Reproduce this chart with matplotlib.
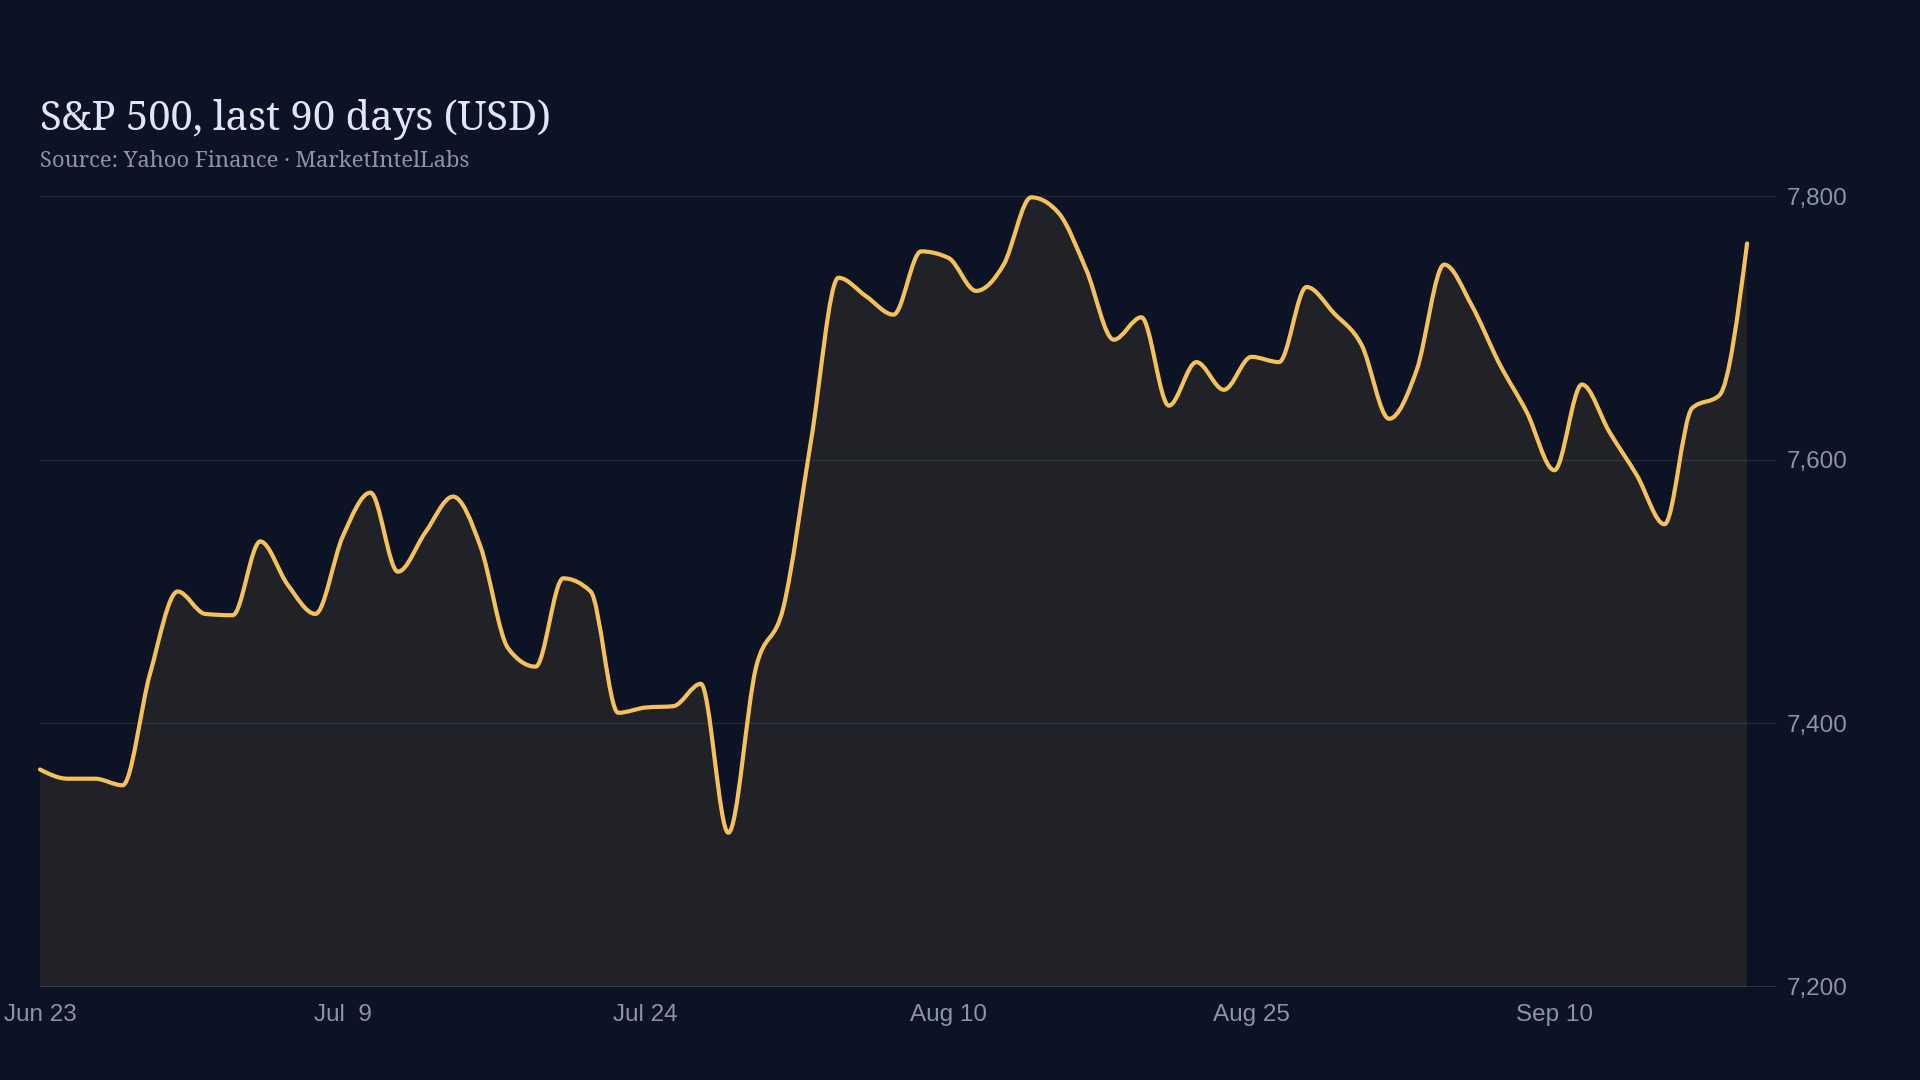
import numpy as np
import matplotlib
matplotlib.use("Agg")
import matplotlib.pyplot as plt
from matplotlib.path import Path
from matplotlib.patches import PathPatch

# S&P 500 closes, one point per trading day
closes = [7365, 7358, 7358, 7353, 7438, 7500, 7483, 7482, 7538, 7505,
          7483, 7542, 7575, 7515, 7545, 7572, 7534, 7457, 7443, 7510,
          7500, 7408, 7412, 7413, 7430, 7317, 7442, 7488, 7614, 7738,
          7724, 7710, 7758, 7753, 7728, 7748, 7799, 7787, 7744, 7691,
          7708, 7641, 7674, 7653, 7678, 7674, 7731, 7711, 7687, 7631,
          7668, 7748, 7717, 7673, 7636, 7592, 7657, 7621, 7588, 7551,
          7639, 7649, 7764]
tick_labels = ["Jun 23", "Jul  9", "Jul 24", "Aug 10", "Aug 25", "Sep 10"]
y_ticks = [7200, 7400, 7600, 7800]

BG = "#0b1324"
LINE = "#f5c15a"
MUTED = "#8b93a7"


def monotone_path(x, y, base=None):
    # monotone cubic (like d3 curveMonotoneX) as bezier segments
    x = np.asarray(x, float)
    y = np.asarray(y, float)
    n = len(x)
    h = np.diff(x)
    s = np.diff(y) / h
    t = np.zeros(n)
    for i in range(1, n - 1):
        p = (s[i - 1] * h[i] + s[i] * h[i - 1]) / (h[i - 1] + h[i])
        t[i] = (np.sign(s[i - 1]) + np.sign(s[i])) * min(abs(s[i - 1]), abs(s[i]), 0.5 * abs(p))
    t[0] = (3 * s[0] - t[1]) / 2
    t[-1] = (3 * s[-1] - t[-2]) / 2
    verts = [(x[0], y[0])]
    codes = [Path.MOVETO]
    for i in range(n - 1):
        d = h[i] / 3
        verts += [(x[i] + d, y[i] + d * t[i]), (x[i + 1] - d, y[i + 1] - d * t[i + 1]), (x[i + 1], y[i + 1])]
        codes += [Path.CURVE4] * 3
    if base is not None:
        verts += [(x[-1], base), (x[0], base), (x[0], y[0])]
        codes += [Path.LINETO, Path.LINETO, Path.CLOSEPOLY]
    return Path(verts, codes)


xs = np.arange(len(closes))

fig = plt.figure(figsize=(19.2, 10.8), dpi=100, facecolor=BG)
ax = fig.add_axes([40 / 1920, 1 - 987 / 1080, (1776 - 40) / 1920, (987 - 196) / 1080])
ax.set_facecolor(BG)

ax.add_patch(PathPatch(monotone_path(xs, closes, base=y_ticks[0]), facecolor=LINE, alpha=0.09,
                       edgecolor="none", zorder=2))
ax.add_patch(PathPatch(monotone_path(xs, closes), facecolor="none", edgecolor=LINE, lw=3.0,
                       capstyle="round", joinstyle="round", zorder=4, clip_on=False))

ax.set_xlim(0, 63.05)
ax.set_ylim(y_ticks[0], y_ticks[-1])

for v in y_ticks[1:]:
    ax.axhline(v, color=MUTED, alpha=0.14, lw=1, zorder=1)
ax.axhline(y_ticks[0], color=MUTED, alpha=0.3, lw=1.2, zorder=3)

for sp in ax.spines.values():
    sp.set_visible(False)

ax.yaxis.tick_right()
ax.set_yticks(y_ticks)
ax.set_yticklabels([f"{v:,}" for v in y_ticks])
ax.set_xticks(xs[::11])
ax.set_xticklabels(tick_labels)
ax.tick_params(axis="both", length=0, colors=MUTED, labelsize=17.5)
ax.tick_params(axis="y", pad=8)
ax.tick_params(axis="x", pad=12)
for lab in ax.get_xticklabels() + ax.get_yticklabels():
    lab.set_fontfamily(["Liberation Sans", "DejaVu Sans"])

fig.text(40 / 1920, 1 - 130 / 1080, "S&P 500, last 90 days (USD)", fontsize=28.8,
         family=["Noto Serif", "DejaVu Serif"], color="#dfe7f7", va="baseline")
fig.text(40 / 1920, 1 - 167 / 1080, "Source: Yahoo Finance \u00b7 MarketIntelLabs", fontsize=15.8,
         family=["Noto Serif", "DejaVu Serif"], color=MUTED, va="baseline")

fig.savefig("out.png", dpi=100, facecolor=BG)
